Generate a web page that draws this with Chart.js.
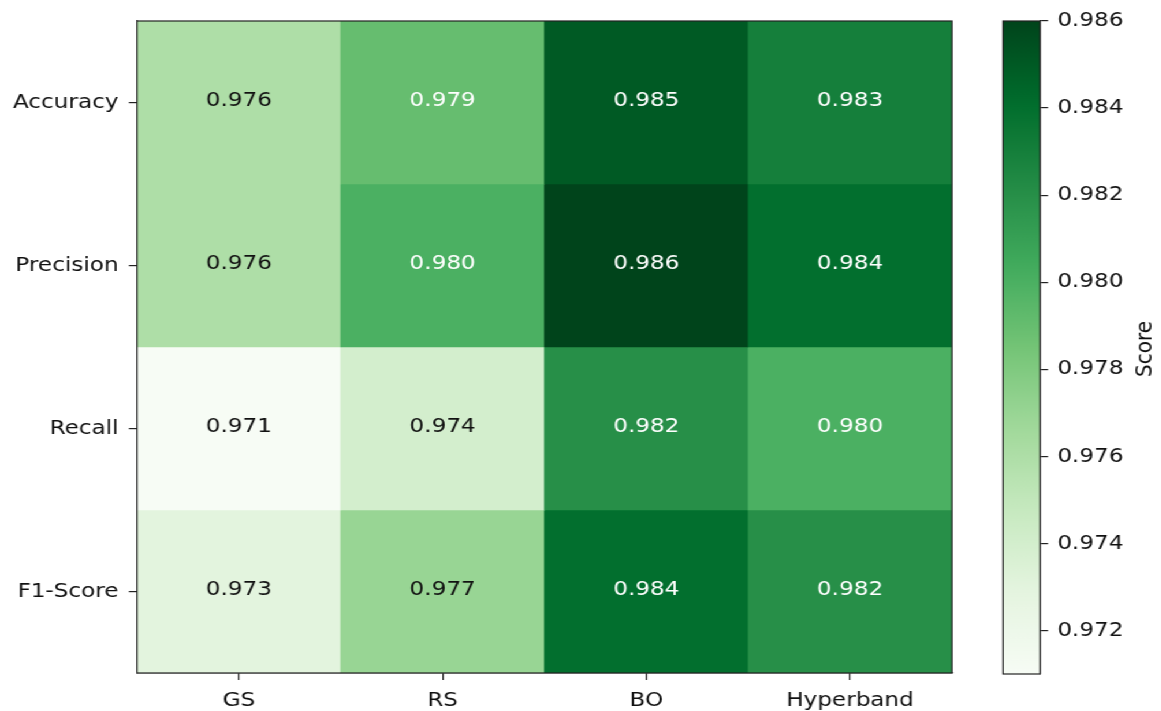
<!DOCTYPE html>
<html>
<head>
<meta charset="utf-8">
<script src="https://cdn.jsdelivr.net/npm/chart.js@4.4.1/dist/chart.umd.min.js"></script>
<style>
  html, body { margin: 0; padding: 0; background: #fff; overflow: hidden; }
  #stage { position: absolute; left: 0; top: 0; width: 1005px; height: 711px;
           transform: scaleX(1.155); transform-origin: 0 0; }
  #stage canvas { position: absolute; left: 0; top: 0; }
</style>
</head>
<body>
<div id="stage">
  <canvas id="heat" width="1005" height="711"></canvas>
  <canvas id="cbar" width="1005" height="711"></canvas>
</div>
<script>
// Tuning methods (columns) and metrics (rows, top to bottom)
const methods = ['GS', 'RS', 'BO', 'Hyperband'];
const metrics = ['Accuracy', 'Precision', 'Recall', 'F1-Score'];

// Scores per metric, one value per method
const accuracy  = [0.976, 0.979, 0.985, 0.983];
const precision = [0.976, 0.980, 0.986, 0.984];
const recall    = [0.971, 0.974, 0.982, 0.980];
const f1Score   = [0.973, 0.977, 0.984, 0.982];

// Colour scale range and colour bar ticks
const scoreMin = 0.971;
const scoreMax = 0.986;
const colorbarTicks = [0.972, 0.974, 0.976, 0.978, 0.980, 0.982, 0.984, 0.986];
const colorbarLabel = 'Score';

const rows = [accuracy, precision, recall, f1Score];

// "Greens" sequential palette
const greensStops = ['#f7fcf5', '#e5f5e0', '#c7e9c0', '#a1d99b', '#74c476',
                     '#41ab5d', '#238b45', '#006d2c', '#00441b'];
function hexToRgb(h) {
  return [parseInt(h.slice(1, 3), 16), parseInt(h.slice(3, 5), 16), parseInt(h.slice(5, 7), 16)];
}
function greens(t) {
  t = Math.max(0, Math.min(1, t));
  const p = t * (greensStops.length - 1);
  const i = Math.min(greensStops.length - 2, Math.floor(p));
  const f = p - i;
  const a = hexToRgb(greensStops[i]), b = hexToRgb(greensStops[i + 1]);
  const c = a.map((v, k) => Math.round(v + (b[k] - v) * f));
  return `rgb(${c[0]},${c[1]},${c[2]})`;
}
const norm = v => (v - scoreMin) / (scoreMax - scoreMin);

const FONT = 'DejaVu Sans';
const INK = '#111';
Chart.defaults.font.family = FONT;
Chart.defaults.font.size = 20;
Chart.defaults.color = INK;

// Frame around each plotting area
const framePlugin = {
  id: 'frame',
  afterDraw(chart) {
    const { ctx, chartArea: a } = chart;
    ctx.save();
    ctx.strokeStyle = '#222';
    ctx.lineWidth = 1.2;
    ctx.strokeRect(a.left, a.top, a.right - a.left, a.bottom - a.top);
    ctx.restore();
  }
};

// Value written at the centre of each cell
const cellLabels = {
  id: 'cellLabels',
  afterDatasetsDraw(chart) {
    const { ctx } = chart;
    ctx.save();
    ctx.font = `20px "${FONT}"`;
    ctx.textAlign = 'center';
    ctx.textBaseline = 'middle';
    chart.data.datasets.forEach((ds, di) => {
      const meta = chart.getDatasetMeta(di);
      meta.data.forEach((el, i) => {
        const v = ds.scores[i];
        ctx.fillStyle = norm(v) > 0.5 ? '#ffffff' : INK;
        ctx.fillText(v.toFixed(3), el.x, (el.y + el.base) / 2 - 2);
      });
    });
    ctx.restore();
  }
};

const heatDatasets = rows.map((vals, r) => ({
  label: metrics[r],
  scores: vals,
  data: vals.map(() => [metrics.length - 1 - r, metrics.length - r]),
  backgroundColor: vals.map(v => greens(norm(v))),
  borderWidth: 0,
  grouped: false,
  barPercentage: 1,
  categoryPercentage: 1
}));

new Chart(document.getElementById('heat'), {
  type: 'bar',
  data: { labels: methods, datasets: heatDatasets },
  options: {
    responsive: false,
    animation: false,
    devicePixelRatio: 1,
    layout: { padding: { left: 0, top: 21, right: 180.8, bottom: 0 } },
    plugins: { legend: { display: false }, tooltip: { enabled: false }, title: { display: false } },
    scales: {
      x: {
        type: 'category',
        offset: true,
        grid: { display: true, offset: false, drawOnChartArea: false, drawTicks: true, tickLength: 7, color: '#222', lineWidth: 1.2 },
        border: { display: true, color: '#222', width: 1.2 },
        ticks: { padding: 9, color: INK, font: { size: 20 } },
        afterFit(scale) { scale.height = 38; }
      },
      y: {
        type: 'linear',
        min: 0,
        max: metrics.length,
        afterBuildTicks(scale) {
          scale.ticks = metrics.map((m, i) => ({ value: i + 0.5 }));
        },
        grid: { display: true, drawOnChartArea: false, drawTicks: true, tickLength: 7, color: '#222', lineWidth: 1.2 },
        border: { display: true, color: '#222', width: 1.2 },
        ticks: {
          padding: 9,
          color: INK,
          font: { size: 20 },
          callback: (value, index) => metrics[metrics.length - 1 - index]
        },
        afterFit(scale) { scale.width = 118.6; }
      }
    }
  },
  plugins: [cellLabels, framePlugin]
});

// Colour bar: one bar spanning the score range, filled with the palette
const colorbarTitle = {
  id: 'colorbarTitle',
  afterDraw(chart) {
    const { ctx } = chart;
    ctx.save();
    ctx.font = `20px "${FONT}"`;
    ctx.fillStyle = INK;
    ctx.textAlign = 'center';
    ctx.textBaseline = 'middle';
    ctx.translate(991.8, 349);
    ctx.rotate(-Math.PI / 2);
    ctx.fillText(colorbarLabel, 0, 0);
    ctx.restore();
  }
};

new Chart(document.getElementById('cbar'), {
  type: 'bar',
  data: {
    labels: [''],
    datasets: [{
      data: [[scoreMin, scoreMax]],
      backgroundColor(context) {
        const { chart } = context;
        const a = chart.chartArea;
        if (!a) return greensStops[4];
        const g = chart.ctx.createLinearGradient(0, a.bottom, 0, a.top);
        for (let k = 0; k <= 30; k++) g.addColorStop(k / 30, greens(k / 30));
        return g;
      },
      borderWidth: 0,
      barPercentage: 1,
      categoryPercentage: 1
    }]
  },
  options: {
    responsive: false,
    animation: false,
    devicePixelRatio: 1,
    layout: { padding: { left: 868.4, top: 21, right: 0, bottom: 37 } },
    plugins: { legend: { display: false }, tooltip: { enabled: false } },
    scales: {
      x: { display: false },
      y: {
        type: 'linear',
        position: 'right',
        min: scoreMin,
        max: scoreMax,
        afterBuildTicks(scale) {
          scale.ticks = colorbarTicks.map(v => ({ value: v }));
        },
        grid: { display: true, drawOnChartArea: false, drawTicks: true, tickLength: 7, color: '#222', lineWidth: 1.2 },
        border: { display: true, color: '#222', width: 1.2 },
        ticks: { padding: 8, color: INK, font: { size: 20 }, callback: v => v.toFixed(3) },
        afterFit(scale) { scale.width = 104.6; }
      }
    }
  },
  plugins: [framePlugin, colorbarTitle]
});
</script>
</body>
</html>
